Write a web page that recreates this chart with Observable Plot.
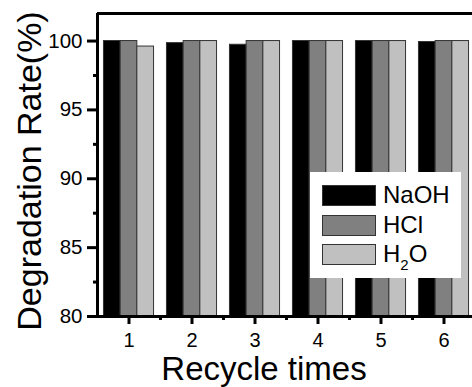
<!DOCTYPE html>
<html><head><meta charset="utf-8">
<script src="https://cdn.jsdelivr.net/npm/d3@7"></script>
<script src="https://cdn.jsdelivr.net/npm/@observablehq/plot@0.6"></script>
<style>
body{margin:0;overflow:hidden;background:#fff;}
#wrap{position:relative;width:472px;height:387px;overflow:hidden;}
#wrap svg{font-family:"Liberation Sans",Arial,sans-serif;}
.legend{position:absolute;left:310px;top:172px;width:151px;height:106px;background:#fff;font-family:"Liberation Sans",Arial,sans-serif;font-size:24px;color:#000;}
.row{position:absolute;left:0;height:20px;width:151px;}
.sw{position:absolute;left:12px;top:0;width:52px;height:19px;border:1px solid #333;}
.lab{position:absolute;left:73px;top:0;line-height:20px;white-space:nowrap;}
.lab sub{font-size:15px;vertical-align:-8px;line-height:0;}
</style>
</head><body>
<div id="wrap"></div>
<script>
const cycles = [1, 2, 3, 4, 5, 6];
const series = ["NaOH", "HCl", "H2O"];
const naoh = [100, 99.85, 99.73, 100, 100, 99.93];
const hcl  = [100, 100, 100, 100, 100, 100];
const h2o  = [99.6, 100, 100, 100, 100, 100];
const colors = ["#000000", "#808080", "#c0c0c0"];
const yTicks = [80, 85, 90, 95, 100];
const yMinor = [82.5, 87.5, 92.5, 97.5];
const xMinor = [1.5, 2.5, 3.5, 4.5, 5.5];
const yDomain = [80, 102];
const xDomain = [0.5, 6.5];
const barW = 0.265;

const valuesBySeries = [naoh, hcl, h2o];
const rows = [];
series.forEach((s, i) => {
  cycles.forEach((c, j) => {
    rows.push({cycle: c, series: s, idx: i, value: valuesBySeries[i][j]});
  });
});

const chart = Plot.plot({
  width: 472, height: 387,
  marginLeft: 97, marginTop: 13, marginBottom: 71, marginRight: 0,
  x: {type: "linear", domain: xDomain, range: [97, 475], label: null, axis: null},
  y: {domain: yDomain, label: null, axis: null},
  color: {domain: series, range: colors},
  style: {fontFamily: "'Liberation Sans', Arial, sans-serif", fontSize: "20px", color: "black", background: "white"},
  marks: [
    Plot.rectY(rows, {
      x1: d => d.cycle + (d.idx - 1.5) * barW,
      x2: d => d.cycle + (d.idx - 0.5) * barW,
      y1: yDomain[0], y2: "value",
      fill: "series", stroke: "#333", strokeWidth: 1
    }),
    Plot.axisY(yTicks, {tickSize: 10, strokeWidth: 3, tickFormat: () => "", label: null}),
    Plot.axisY(yMinor, {tickSize: 4, strokeWidth: 3, tickFormat: () => "", label: null}),
    Plot.axisX(cycles, {tickSize: 8, strokeWidth: 3, tickFormat: () => "", label: null}),
    Plot.axisX(xMinor, {tickSize: 4, strokeWidth: 3, tickFormat: () => "", label: null}),
    Plot.text(yTicks, {x: xDomain[0], y: d => d, dx: -15, textAnchor: "end", lineAnchor: "middle", fontSize: 20.5, text: d => String(d)}),
    Plot.text(cycles, {x: d => d, y: yDomain[0], dy: 16, textAnchor: "middle", lineAnchor: "top", fontSize: 20, text: d => String(d)}),
    Plot.ruleX([xDomain[0]], {strokeWidth: 3}),
    Plot.ruleY([yDomain[0]], {strokeWidth: 3}),
    Plot.ruleY([yDomain[1]], {strokeWidth: 3}),
    Plot.text(["Recycle times"], {frameAnchor: "bottom", textAnchor: "middle", dy: 53, dx: -21, fontSize: 33, lineAnchor: "middle"}),
    Plot.text(["Degradation Rate(%)"], {frameAnchor: "left", textAnchor: "middle", rotate: -90, dx: -67, dy: 6, fontSize: 34, lineAnchor: "middle"})
  ]
});
const wrap = document.getElementById("wrap");
wrap.appendChild(chart);

const legend = document.createElement("div");
legend.className = "legend";
const labels = ["NaOH", "HCl", "H<sub>2</sub>O"];
series.forEach((s, i) => {
  const r = document.createElement("div");
  r.className = "row";
  r.style.top = (13 + i * 29.5) + "px";
  r.innerHTML = `<div class="sw" style="background:${colors[i]}"></div><div class="lab">${labels[i]}</div>`;
  legend.appendChild(r);
});
wrap.appendChild(legend);
</script>
</body></html>
